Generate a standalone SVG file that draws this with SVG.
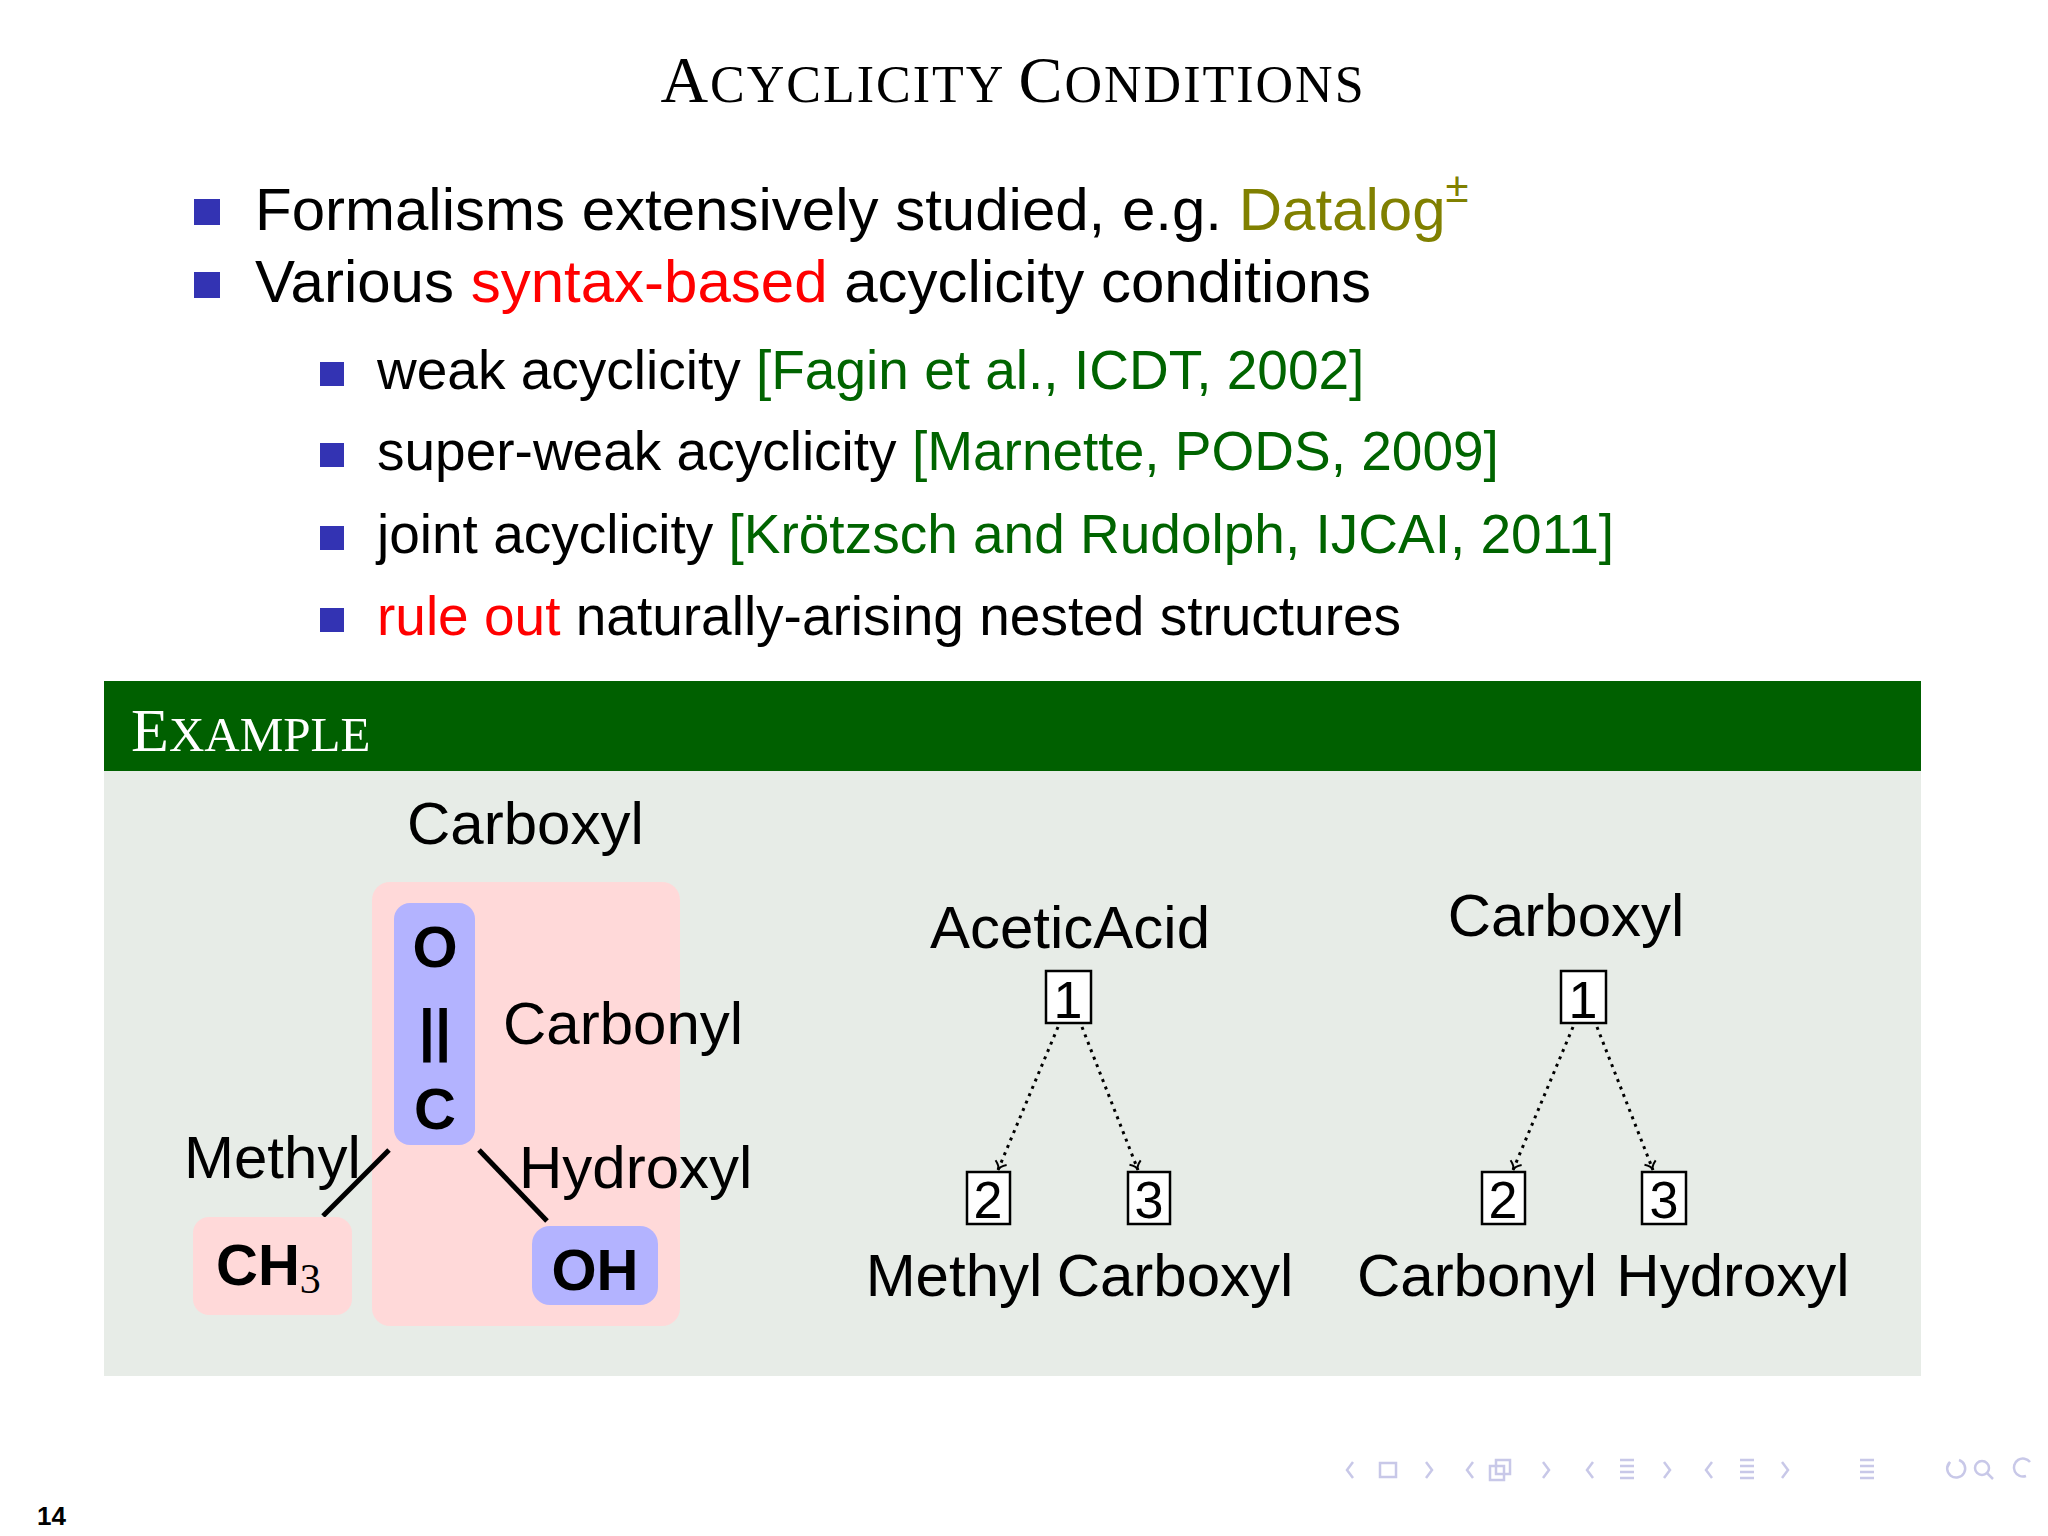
<svg xmlns="http://www.w3.org/2000/svg" width="2048" height="1536" viewBox="0 0 2048 1536">
<style>
.s{font-family:"Liberation Sans",Arial,sans-serif;fill:#000}
.serif{font-family:"Liberation Serif","Times New Roman",serif}
.b{fill:#3333b3}
.g{fill:#006400}
.r{fill:#ff0000}
.nav{fill:none;stroke:#c8c8e8;stroke-width:2.5}
.num{fill:#fff;stroke:#000;stroke-width:2.5}
.edge{stroke:#000;stroke-width:3;stroke-dasharray:3 5;fill:none;marker-end:url(#ah)}
</style>
<defs>
<marker id="ah" markerWidth="14" markerHeight="14" refX="10" refY="7" orient="auto" markerUnits="userSpaceOnUse">
<path d="M2,1 Q6,7 10,7 Q6,7 2,13" fill="none" stroke="#000" stroke-width="2"/>
</marker>
</defs>
<rect width="2048" height="1536" fill="#fff"/>
<text class="serif" x="1013" y="102" text-anchor="middle" font-size="66" letter-spacing="2"><tspan>A</tspan><tspan font-size="52">CYCLICITY </tspan><tspan>C</tspan><tspan font-size="52">ONDITIONS</tspan></text>
<g id="bullets">
<rect class="b" x="194" y="199" width="26" height="26"/>
<text class="s" x="255" y="230" font-size="60">Formalisms extensively studied, e.g. <tspan fill="#808000">Datalog</tspan><tspan fill="#808000" font-size="42" dy="-28">±</tspan></text>
<rect class="b" x="194" y="272" width="26" height="26"/>
<text class="s" x="255" y="302" font-size="60">Various <tspan class="r">syntax-based</tspan> acyclicity conditions</text>
<rect class="b" x="320" y="362" width="24" height="24"/>
<text class="s" x="377" y="389" font-size="55">weak acyclicity <tspan class="g">[Fagin et al., ICDT, 2002]</tspan></text>
<rect class="b" x="320" y="443" width="24" height="24"/>
<text class="s" x="377" y="470" font-size="55">super-weak acyclicity <tspan class="g">[Marnette, PODS, 2009]</tspan></text>
<rect class="b" x="320" y="526" width="24" height="24"/>
<text class="s" x="377" y="553" font-size="55">joint acyclicity <tspan class="g">[Krötzsch and Rudolph, IJCAI, 2011]</tspan></text>
<rect class="b" x="320" y="608" width="24" height="24"/>
<text class="s" x="377" y="635" font-size="55"><tspan class="r">rule out</tspan> naturally-arising nested structures</text>
</g>
<g id="example">
<rect x="104" y="681" width="1817" height="90" fill="#006000"/>
<rect x="104" y="771" width="1817" height="605" fill="#e7ece7"/>
<text class="serif" x="131" y="751" font-size="62" fill="#fff">E<tspan font-size="49">XAMPLE</tspan></text>
</g>
<g id="molecule">
<text class="s" x="407" y="844" font-size="60">Carboxyl</text>
<rect x="372" y="882" width="308" height="444" rx="18" fill="#ffd9d9"/>
<rect x="394" y="903" width="81" height="242" rx="16" fill="#b3b3ff"/>
<text class="s" x="435" y="967" font-size="58" font-weight="bold" text-anchor="middle">O</text>
<text class="s" x="435" y="1050" font-size="58" font-weight="bold" text-anchor="middle">||</text>
<text class="s" x="435" y="1129" font-size="58" font-weight="bold" text-anchor="middle">C</text>
<text class="s" x="503" y="1044" font-size="60">Carbonyl</text>
<text class="s" x="184" y="1178" font-size="60">Methyl</text>
<text class="s" x="519" y="1188" font-size="60">Hydroxyl</text>
<line x1="389" y1="1150" x2="323" y2="1216" stroke="#000" stroke-width="5"/>
<line x1="479" y1="1150" x2="547" y2="1221" stroke="#000" stroke-width="5"/>
<rect x="193" y="1217" width="159" height="98" rx="16" fill="#ffd9d9"/>
<text class="s" x="216" y="1285" font-size="58" font-weight="bold">CH<tspan font-weight="normal" class="serif" font-size="42" dy="8">3</tspan></text>
<rect x="532" y="1226" width="126" height="79" rx="18" fill="#b3b3ff"/>
<text class="s" x="595" y="1290" font-size="58" font-weight="bold" text-anchor="middle">OH</text>
</g>
<g id="tree1">
<text class="s" x="1070" y="948" font-size="60" text-anchor="middle">AceticAcid</text>
<rect class="num" x="1046" y="971" width="45" height="52"/>
<text class="s" x="1068" y="1018" font-size="52" text-anchor="middle">1</text>
<rect class="num" x="967" y="1172" width="43" height="52"/>
<text class="s" x="988" y="1218" font-size="52" text-anchor="middle">2</text>
<rect class="num" x="1128" y="1172" width="42" height="52"/>
<text class="s" x="1149" y="1218" font-size="52" text-anchor="middle">3</text>
<text class="s" x="954" y="1296" font-size="60" text-anchor="middle">Methyl</text>
<text class="s" x="1175" y="1296" font-size="60" text-anchor="middle">Carboxyl</text>
</g>
<g id="tree2">
<text class="s" x="1566" y="936" font-size="60" text-anchor="middle">Carboxyl</text>
<rect class="num" x="1561" y="971" width="45" height="52"/>
<text class="s" x="1583" y="1018" font-size="52" text-anchor="middle">1</text>
<rect class="num" x="1482" y="1172" width="43" height="52"/>
<text class="s" x="1503" y="1218" font-size="52" text-anchor="middle">2</text>
<rect class="num" x="1642" y="1172" width="44" height="52"/>
<text class="s" x="1664" y="1218" font-size="52" text-anchor="middle">3</text>
<text class="s" x="1477" y="1296" font-size="60" text-anchor="middle">Carbonyl</text>
<text class="s" x="1733" y="1296" font-size="60" text-anchor="middle">Hydroxyl</text>
</g>
<g id="connectors">
<path class="edge" d="M1058,1027 L998,1170"/>
<path class="edge" d="M1082,1027 L1138,1170"/>
<path class="edge" d="M1573,1027 L1513,1170"/>
<path class="edge" d="M1597,1027 L1653,1170"/>
</g>
<g id="nav">
<path class="nav" d="M1353,1462 l-6,8 6,8"/>
<rect class="nav" x="1380" y="1463" width="16" height="14"/>
<path class="nav" d="M1426,1462 l6,8 -6,8"/>
<path class="nav" d="M1473,1462 l-6,8 6,8"/>
<rect class="nav" x="1490" y="1466" width="14" height="14"/><rect class="nav" x="1496" y="1460" width="14" height="14"/>
<path class="nav" d="M1543,1462 l6,8 -6,8"/>
<path class="nav" d="M1593,1462 l-6,8 6,8"/>
<path class="nav" d="M1620,1460 h14 M1620,1466 h14 M1620,1472 h14 M1620,1478 h14"/>
<path class="nav" d="M1664,1462 l6,8 -6,8"/>
<path class="nav" d="M1712,1462 l-6,8 6,8"/>
<path class="nav" d="M1740,1460 h14 M1740,1466 h14 M1740,1472 h14 M1740,1478 h14"/>
<path class="nav" d="M1782,1462 l6,8 -6,8"/>
<path class="nav" d="M1860,1460 h14 M1860,1466 h14 M1860,1472 h14 M1860,1478 h14"/>
<path class="nav" d="M1950,1462 a9,9 0 1 0 9,-2 M1950,1462 l-3,6"/>
<circle class="nav" cx="1982" cy="1468" r="7"/><path class="nav" d="M1987,1473 l6,6"/>
<path class="nav" d="M2030,1462 a9,9 0 1 0 -4,14"/>
</g>
<text class="s" x="37" y="1525" font-size="26" font-weight="bold">14</text>
</svg>
